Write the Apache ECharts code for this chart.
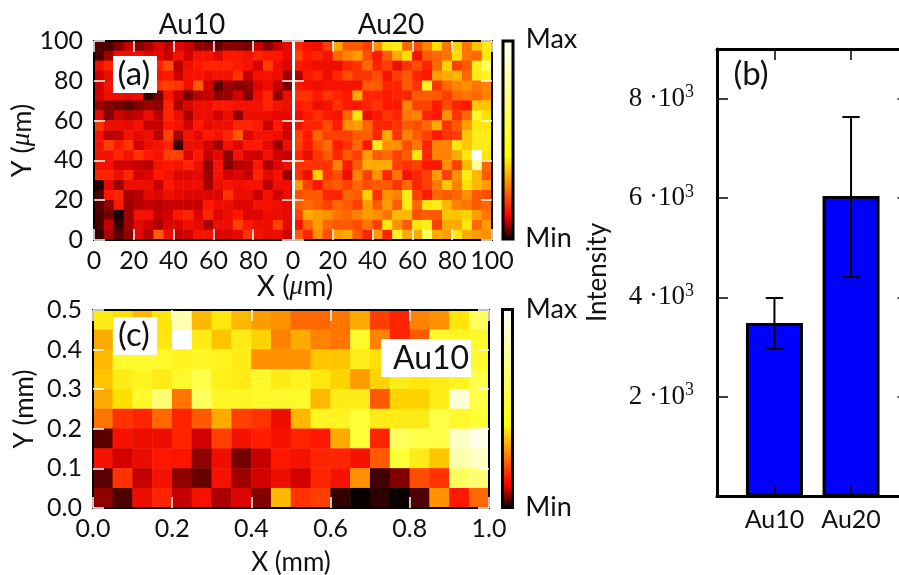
<!DOCTYPE html>
<html>
<head>
<meta charset="utf-8">
<style>
  html, body { margin: 0; padding: 0; background: #fff; }
  #chart { width: 899px; height: 575px; }
</style>
</head>
<body>
<div id="chart"></div>
<script src="https://cdn.jsdelivr.net/npm/echarts@6/dist/echarts.min.js"></script>
<script>
// heat values on a 0-100 scale, rows listed top to bottom as in the picture
const au10Map = [
  [10,10,18,28,18,24,32,26,32,28,20,18,14,20,18,16,28,18,28,34],
  [10,22,36,36,36,32,34,28,38,30,38,38,33,40,40,38,42,40,40,34],
  [36,42,38,38,38,38,42,48,26,36,40,42,42,42,40,38,30,46,36,32],
  [30,36,38,38,38,38,38,40,28,38,38,36,38,38,44,28,38,38,36,22],
  [30,38,38,38,38,38,44,46,44,36,50,30,12,22,18,20,32,36,28,16],
  [30,36,36,34,36,6,16,38,28,16,26,28,20,22,30,18,36,42,20,36],
  [22,18,16,12,18,22,20,42,24,32,36,36,40,40,38,38,38,42,38,36],
  [34,18,30,26,28,36,26,42,36,24,36,36,30,36,20,36,36,36,34,34],
  [44,36,36,34,38,28,28,40,38,30,40,34,36,36,42,42,40,28,40,30],
  [38,26,28,38,34,36,26,46,24,38,34,40,38,42,50,32,38,38,36,30],
  [38,46,40,44,30,36,38,42,8,36,36,30,22,38,32,40,40,34,22,36],
  [38,38,42,38,44,40,38,46,46,32,40,28,34,20,38,30,30,38,30,28],
  [38,38,30,30,28,26,38,40,38,42,36,20,38,18,26,28,40,24,32,36],
  [42,42,36,42,30,32,40,38,32,32,34,22,38,30,32,28,42,34,38,20],
  [4,34,22,36,36,36,28,40,36,36,36,22,36,38,36,38,38,26,36,36],
  [10,40,42,24,26,34,32,36,34,32,32,32,32,44,36,36,28,38,30,36],
  [12,20,40,22,26,28,26,28,28,28,28,40,36,36,32,32,38,38,36,34],
  [10,16,2,22,38,38,28,30,40,42,32,42,32,36,40,32,32,36,36,34],
  [10,28,6,22,34,30,24,32,32,36,34,24,36,36,46,40,36,36,46,34],
  [6,24,12,20,34,26,50,36,28,30,38,38,32,32,34,44,38,36,36,30]
];
const au20Map = [
  [42,38,36,46,62,50,50,46,58,72,74,52,48,56,70,54,68,54,66,74],
  [46,40,42,38,52,56,60,48,40,50,62,70,38,50,52,54,70,54,52,72],
  [40,38,36,36,36,42,44,52,42,46,36,44,48,42,52,68,46,50,74,85],
  [24,40,42,36,42,48,44,44,48,38,46,50,42,40,60,62,64,52,74,76],
  [40,38,36,38,38,38,38,50,50,42,42,50,44,76,44,52,56,58,54,56],
  [44,44,40,44,42,40,62,42,42,40,42,42,50,50,50,46,52,54,52,56],
  [40,42,36,38,44,40,40,42,44,40,40,56,46,46,40,48,42,40,66,66],
  [36,40,44,40,38,52,72,36,40,44,42,54,56,42,40,58,44,52,78,70],
  [38,42,42,48,40,58,60,52,42,42,44,50,48,52,62,44,50,60,72,72],
  [46,40,52,46,46,46,50,50,42,62,44,56,50,46,40,44,46,66,74,74],
  [46,40,48,52,40,44,52,40,74,58,58,48,54,42,56,56,72,66,74,74],
  [42,36,44,50,42,50,46,60,50,52,46,50,72,42,56,56,62,72,100,72],
  [44,44,44,44,56,40,50,62,62,62,46,44,46,40,40,58,46,64,90,52],
  [44,36,68,44,48,36,56,46,58,42,54,38,42,46,60,46,58,74,64,50],
  [60,46,40,48,50,46,52,48,50,50,44,52,42,46,54,66,56,70,64,60],
  [48,50,50,42,42,52,50,68,44,58,56,74,46,40,52,50,52,58,50,48],
  [50,52,50,46,52,50,46,60,50,60,50,74,52,72,74,64,56,54,50,52],
  [46,62,60,58,54,52,56,60,58,54,64,64,48,50,50,66,66,68,60,54],
  [38,52,60,52,50,50,48,54,46,72,58,50,72,74,46,62,62,72,52,60],
  [50,42,58,48,60,62,50,42,60,42,76,62,62,84,62,60,72,62,60,58]
];
const mmMap = [
  [74,70,64,72,92,64,72,64,60,58,52,52,54,62,46,42,56,58,72,84],
  [62,72,72,72,100,74,66,74,68,56,62,56,54,78,56,42,50,78,76,78],
  [64,78,78,78,76,77,76,74,58,58,58,66,66,74,70,72,72,72,74,78],
  [66,74,76,74,78,82,75,74,78,74,76,72,68,60,68,74,72,74,76,82],
  [62,70,78,86,54,84,77,77,78,78,78,64,74,74,50,68,68,74,96,82],
  [54,44,42,52,42,50,62,46,44,36,64,76,76,80,74,74,74,82,78,80],
  [12,38,36,36,42,30,46,38,41,38,42,40,62,80,42,84,82,82,94,98],
  [38,30,35,40,39,20,36,16,28,40,38,42,42,38,50,80,74,66,92,94],
  [12,44,28,38,20,14,38,22,30,36,30,42,38,58,8,18,48,44,84,86],
  [20,10,36,42,28,38,24,32,18,64,44,46,6,0,5,0,10,58,40,52]
];

const barCats = ['Au10', 'Au20'];
const barValues = [3483, 6040];
const errLow = [2960, 4410];
const errHigh = [3987, 7630];

const umTicks = 20;
const mmXTicks = 0.2;
const mmYTicks = 0.1;
const barTicks = 2000;

const hotColors = ['#0a0000','#4e0000','#910000','#d30000','#ff1700','#ff5a00','#ff9d00','#ffe000','#ffff36','#ffff9b','#ffffff'];

const sansFont = 'Lato';
const tickSize = 25;
const nameSize = 27;

const heatData = (rows) => {
  const out = [];
  rows.forEach((row, r) => {
    row.forEach((v, c) => out.push([c, rows.length - 1 - r, v]));
  });
  return out;
};
const idxList = (n) => Array.from({ length: n }, (_, i) => i);

// each heat panel: hidden category axes for the cells plus four value axes for the frame
const xAxes = [];
const yAxes = [];
const addPanel = (gridIndex, rows, xOpt, yOpt) => {
  const base = { gridIndex, z: 6, splitLine: { show: false } };
  const line = (color, width) => ({ show: true, onZero: false, lineStyle: { color: color || '#000', width: width || 2 } });
  const tick = { show: true, inside: true, length: 11, lineStyle: { color: '#fff', width: 1.5 } };
  const label = { color: '#111', fontFamily: sansFont, fontSize: tickSize };
  const xIdx = xAxes.length;
  const yIdx = yAxes.length;
  xAxes.push({ type: 'category', gridIndex, show: false, data: idxList(rows[0].length) });
  yAxes.push({ type: 'category', gridIndex, show: false, data: idxList(rows.length) });
  xAxes.push({
    ...base, type: 'value', position: 'bottom', min: xOpt.min, max: xOpt.max, interval: xOpt.interval,
    name: xOpt.name, nameLocation: 'middle', nameGap: 42,
    nameTextStyle: { color: '#111', fontFamily: sansFont, fontSize: 26 },
    axisLine: line(), axisTick: tick,
    axisLabel: { ...label, margin: 8, formatter: xOpt.fmt, showMaxLabel: xOpt.maxLabel !== false }
  });
  xAxes.push({
    ...base, type: 'value', position: 'top', min: xOpt.min, max: xOpt.max, interval: xOpt.interval,
    axisLine: line(), axisTick: tick, axisLabel: { show: false }
  });
  yAxes.push({
    ...base, type: 'value', position: 'left', min: yOpt.min, max: yOpt.max, interval: yOpt.interval,
    name: yOpt.name, nameLocation: 'middle', nameGap: yOpt.nameGap,
    nameTextStyle: { color: '#111', fontFamily: sansFont, fontSize: yOpt.nameSize, rich: yOpt.rich },
    axisLine: line(yOpt.leftColor, yOpt.leftWidth), axisTick: tick,
    axisLabel: { show: yOpt.labels !== false, ...label, margin: 11, formatter: yOpt.fmt }
  });
  yAxes.push({
    ...base, type: 'value', position: 'right', min: yOpt.min, max: yOpt.max, interval: yOpt.interval,
    axisLine: line(yOpt.rightColor, yOpt.rightWidth), axisTick: tick, axisLabel: { show: false }
  });
  return { xAxisIndex: xIdx, yAxisIndex: yIdx };
};

const fix1 = (v) => v.toFixed(1);
const muRich = { mu: { fontFamily: 'Liberation Serif', fontStyle: 'italic', fontSize: nameSize, color: '#111' } };

const panelA = addPanel(0, au10Map,
  { min: 0, max: 100, interval: umTicks, maxLabel: false },
  { min: 0, max: 100, interval: umTicks, name: 'Y ({mu|μ}m)', nameGap: 43, nameSize, rich: muRich, rightColor: '#fff', rightWidth: 3 });
const panelB = addPanel(1, au20Map,
  { min: 0, max: 100, interval: umTicks },
  { min: 0, max: 100, interval: umTicks, labels: false, leftColor: '#fff', leftWidth: 3 });
const panelC = addPanel(2, mmMap,
  { min: 0, max: 1, interval: mmXTicks, fmt: fix1, name: 'X (mm)' },
  { min: 0, max: 0.5, interval: mmYTicks, fmt: fix1, name: 'Y (mm)', nameGap: 55, nameSize: 26 });

// bar panel, right side runs past the window edge as in the original
const barGrid = 3;
const barBase = { gridIndex: barGrid, z: 6, splitLine: { show: false } };
const barLine = { show: true, onZero: false, lineStyle: { color: '#000', width: 3 } };
const barTick = { show: true, inside: true, length: 11, lineStyle: { color: '#000', width: 1.5 } };
const barXIdx = xAxes.length;
const barYIdx = yAxes.length;
xAxes.push({
  ...barBase, type: 'value', position: 'bottom', min: -0.75, max: 1.75,
  axisLine: barLine, axisTick: { ...barTick, customValues: [0, 1] },
  axisLabel: { customValues: [0, 1], color: '#111', fontFamily: sansFont, fontSize: 25, margin: 11, formatter: (v) => barCats[v] }
});
xAxes.push({
  ...barBase, type: 'value', position: 'top', min: -0.75, max: 1.75,
  axisLine: barLine, axisTick: { ...barTick, customValues: [0, 1] }, axisLabel: { show: false }
});
yAxes.push({
  ...barBase, type: 'value', position: 'left', min: 0, max: 9000, interval: barTicks,
  name: 'Intensity', nameLocation: 'middle', nameGap: 106,
  nameTextStyle: { color: '#111', fontFamily: sansFont, fontSize: 26 },
  axisLine: barLine, axisTick: barTick,
  axisLabel: {
    margin: 23, showMinLabel: false, showMaxLabel: false,
    formatter: (v) => '{n|' + v / 1000 + '}{d| ·10}{s|3}',
    rich: {
      n: { fontFamily: 'Liberation Serif', fontSize: 27, color: '#111' },
      d: { fontFamily: 'Liberation Serif', fontSize: 27, color: '#111' },
      s: { fontFamily: 'Liberation Serif', fontSize: 18, color: '#111', padding: [0, 0, 12, 0] }
    }
  }
});
yAxes.push({
  ...barBase, type: 'value', position: 'right', min: 0, max: 9000, interval: barTicks,
  axisLine: barLine, axisTick: barTick, axisLabel: { show: false }
});

const heatSeries = (panel, rows) => ({
  type: 'heatmap',
  xAxisIndex: panel.xAxisIndex,
  yAxisIndex: panel.yAxisIndex,
  data: heatData(rows),
  itemStyle: { borderWidth: 0 },
  emphasis: { disabled: true },
  silent: true,
  z: 2
});

const text = (str, x, y, size, extra) => ({
  type: 'text', x, y, z: 20, silent: true,
  style: { text: str, fontFamily: sansFont, fontSize: size || nameSize, fill: '#111', align: 'center', verticalAlign: 'middle', ...extra }
});
const box = (x, y, width, height) => ({
  type: 'rect', z: 19, silent: true, shape: { x, y, width, height }, style: { fill: '#fff' }
});
const colorBar = (x, y, width, height) => ({
  type: 'rect', z: 19, silent: true, shape: { x, y, width, height },
  style: {
    stroke: '#000', lineWidth: 3,
    fill: new echarts.graphic.LinearGradient(0, 0, 0, 1, [
      { offset: 0, color: '#ffffff' },
      { offset: 0.58, color: '#ffff00' },
      { offset: 0.875, color: '#ff0000' },
      { offset: 1, color: '#000000' }
    ])
  }
});

const chart = echarts.init(document.getElementById('chart'));
chart.setOption({
  animation: false,
  backgroundColor: '#fff',
  grid: [
    { left: 94, top: 41, width: 199, height: 199, outerBoundsMode: 'none' },
    { left: 293, top: 41, width: 199, height: 199, outerBoundsMode: 'none' },
    { left: 93, top: 310, width: 396, height: 198, outerBoundsMode: 'none' },
    { left: 717, top: 49, width: 191.5, height: 447, outerBoundsMode: 'none' }
  ],
  xAxis: xAxes,
  yAxis: yAxes,
  visualMap: {
    show: false, type: 'continuous', min: 0, max: 100, seriesIndex: [0, 1, 2],
    inRange: { color: hotColors }
  },
  series: [
    heatSeries(panelA, au10Map),
    heatSeries(panelB, au20Map),
    heatSeries(panelC, mmMap),
    {
      type: 'bar',
      xAxisIndex: barXIdx,
      yAxisIndex: barYIdx,
      barWidth: 57,
      data: barValues.map((v, i) => [i, v]),
      itemStyle: { color: '#0000ff', borderColor: '#000', borderWidth: 3 },
      silent: true,
      z: 2
    },
    {
      type: 'custom',
      xAxisIndex: barXIdx,
      yAxisIndex: barYIdx,
      data: barCats.map((c, i) => [i, errLow[i], errHigh[i]]),
      encode: { x: 0, y: [1, 2] },
      silent: true,
      z: 4,
      renderItem: (params, api) => {
        const low = api.coord([api.value(0), api.value(1)]);
        const high = api.coord([api.value(0), api.value(2)]);
        const cap = 8.7;
        const style = { stroke: '#000', lineWidth: 2 };
        return {
          type: 'group',
          children: [
            { type: 'line', shape: { x1: low[0], y1: low[1], x2: high[0], y2: high[1] }, style },
            { type: 'line', shape: { x1: low[0] - cap, y1: low[1], x2: low[0] + cap, y2: low[1] }, style },
            { type: 'line', shape: { x1: high[0] - cap, y1: high[1], x2: high[0] + cap, y2: high[1] }, style }
          ]
        };
      }
    }
  ],
  graphic: { elements: [
    box(113, 56, 44, 37),
    text('(a)', 134, 74, 33),
    box(113, 317, 44, 38),
    text('(c)', 134, 335, 33),
    box(381, 339, 90, 38),
    text('Au10', 431, 359, 32),
    text('(b)', 751, 74, 33),
    text('Au10', 192, 25, 28),
    text('Au20', 391, 25, 28),
    text('X ({mu|μ}m)', 295, 287, 28, { rich: muRich }),
    colorBar(503, 41, 10, 198),
    colorBar(502.5, 309.5, 10, 198),
    text('Max', 551.5, 39),
    text('Min', 548.5, 238),
    text('Max', 551.5, 309),
    text('Min', 548.5, 507)
  ] }
});
window.addEventListener('resize', () => chart.resize());
</script>
</body>
</html>
